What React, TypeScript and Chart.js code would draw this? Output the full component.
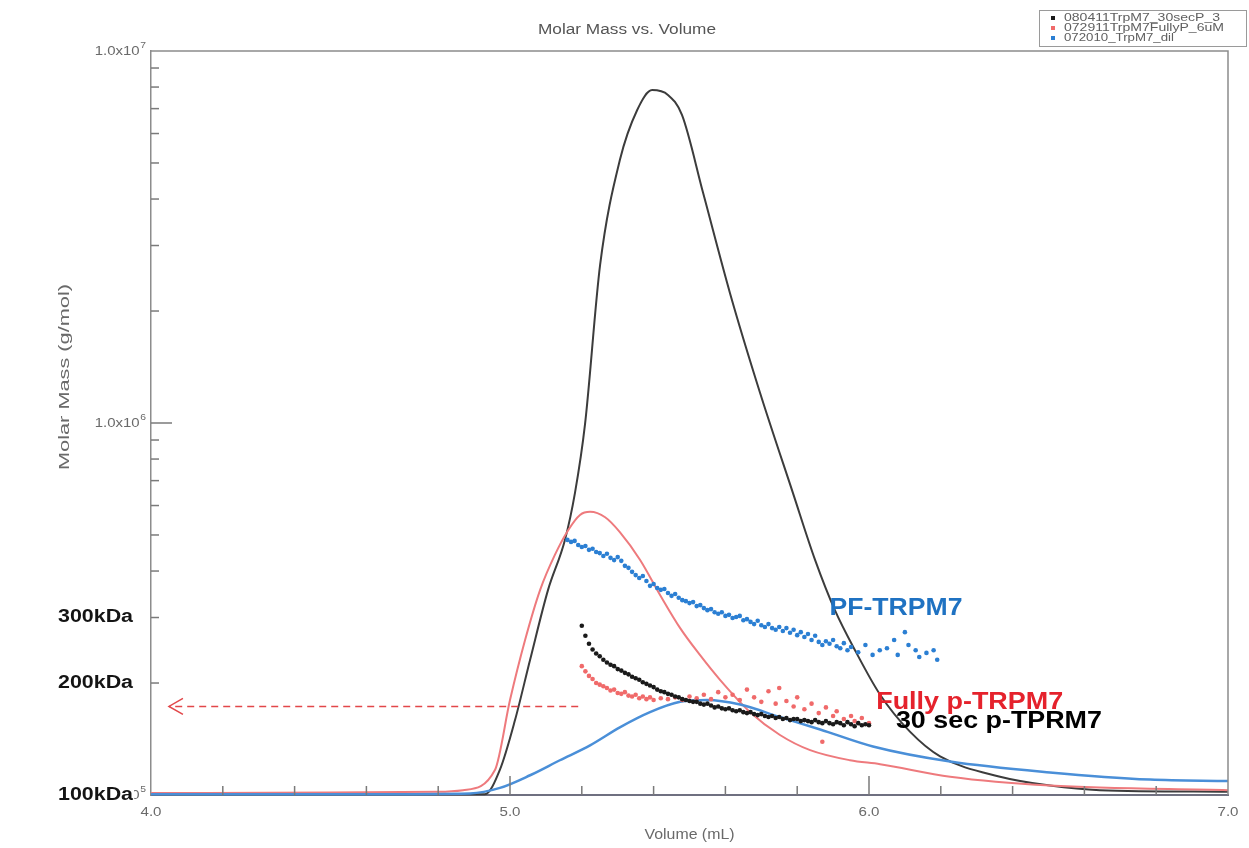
import React, { useEffect, useRef } from "react";
import { Chart, registerables } from "chart.js";
Chart.register(...registerables);

// ---------- DATA ----------
const seriesLabels = ["080411TrpM7_30secP_3", "072911TrpM7FullyP_6uM", "072010_TrpM7_dil"];

// concentration-like traces (plotted on the molar mass axis), volume in mL, value in g/mol
const blackTraceVol = [4.0, 4.5, 4.93, 4.972, 5.014, 5.056, 5.106, 5.153, 5.181, 5.209, 5.251, 5.306, 5.354, 5.396, 5.44, 5.479, 5.538, 5.613, 5.696, 5.788, 5.85, 5.905, 5.961, 6.031, 6.114, 6.198, 6.365, 6.504, 6.643, 7.0];
const blackTraceMass = [1.005e5, 1.005e5, 1.005e5, 1.17e5, 1.59e5, 2.31e5, 3.56e5, 4.85e5, 6.49e5, 9.93e5, 2.66e6, 5.09e6, 6.93e6, 7.85e6, 7.62e6, 6.73e6, 4.15e6, 2.23e6, 1.21e6, 6.49e5, 4.28e5, 3.14e5, 2.45e5, 1.86e5, 1.48e5, 1.27e5, 1.12e5, 1.06e5, 1.03e5, 1.02e5];

const redTraceVol = [4.0, 4.5, 4.8, 4.869, 4.958, 5.0, 5.042, 5.084, 5.125, 5.162, 5.195, 5.223, 5.265, 5.306, 5.362, 5.418, 5.474, 5.529, 5.585, 5.669, 5.752, 5.836, 5.947, 6.031, 6.226, 6.504, 7.0];
const redTraceMass = [1.012e5, 1.015e5, 1.02e5, 1.03e5, 1.167e5, 1.8e5, 2.61e5, 3.56e5, 4.42e5, 5.15e5, 5.66e5, 5.77e5, 5.58e5, 5.09e5, 4.29e5, 3.45e5, 2.81e5, 2.38e5, 2.04e5, 1.67e5, 1.45e5, 1.32e5, 1.24e5, 1.21e5, 1.12e5, 1.06e5, 1.03e5];

const blueTraceVol = [4.0, 4.6, 4.889, 4.972, 5.056, 5.139, 5.223, 5.306, 5.39, 5.474, 5.549, 5.641, 5.752, 5.864, 6.011, 6.226, 6.504, 6.783, 7.0];
const blueTraceMass = [1.005e5, 1.005e5, 1.01e5, 1.045e5, 1.13e5, 1.24e5, 1.36e5, 1.52e5, 1.67e5, 1.78e5, 1.8e5, 1.75e5, 1.62e5, 1.5e5, 1.35e5, 1.23e5, 1.15e5, 1.1e5, 1.09e5];

// molar mass scatter (kDa)
const blueDotsVol = [5.16, 5.17, 5.18, 5.19, 5.2, 5.21, 5.22, 5.23, 5.24, 5.25, 5.26, 5.27, 5.28, 5.29, 5.3, 5.31, 5.32, 5.33, 5.34, 5.35, 5.36, 5.37, 5.38, 5.39, 5.4, 5.41, 5.42, 5.43, 5.44, 5.45, 5.46, 5.47, 5.48, 5.49, 5.5, 5.51, 5.52, 5.53, 5.54, 5.55, 5.56, 5.57, 5.58, 5.59, 5.6, 5.61, 5.62, 5.63, 5.64, 5.65, 5.66, 5.67, 5.68, 5.69, 5.7, 5.71, 5.72, 5.73, 5.74, 5.75, 5.76, 5.77, 5.78, 5.79, 5.8, 5.81, 5.82, 5.83, 5.84, 5.85, 5.86, 5.87, 5.88, 5.89, 5.9, 5.91, 5.92, 5.93, 5.94, 5.95, 5.97, 5.99, 6.01, 6.03, 6.05, 6.07, 6.08, 6.1, 6.11, 6.13, 6.14, 6.16, 6.18, 6.19];
const blueDotsKDa = [485, 479, 482, 470, 464, 467, 456, 459, 450, 447, 439, 445, 434, 428, 436, 426, 413, 408, 398, 390, 383, 388, 376, 365, 369, 360, 356, 358, 349, 343, 347, 339, 334, 332, 328, 330, 322, 324, 318, 314, 316, 310, 307, 310, 303, 305, 299, 301, 303, 295, 297, 292, 288, 294, 286, 283, 288, 281, 278, 283, 276, 281, 273, 278, 269, 274, 266, 271, 261, 268, 258, 253, 259, 255, 261, 251, 248, 256, 245, 250, 242, 253, 238, 245, 248, 261, 238, 274, 253, 245, 235, 241, 245, 231];

const blackDotsVol = [5.2, 5.21, 5.22, 5.23, 5.24, 5.25, 5.26, 5.27, 5.28, 5.29, 5.3, 5.31, 5.32, 5.33, 5.34, 5.35, 5.36, 5.37, 5.38, 5.39, 5.4, 5.41, 5.42, 5.43, 5.44, 5.45, 5.46, 5.47, 5.48, 5.49, 5.5, 5.51, 5.52, 5.53, 5.54, 5.55, 5.56, 5.57, 5.58, 5.59, 5.6, 5.61, 5.62, 5.63, 5.64, 5.65, 5.66, 5.67, 5.68, 5.69, 5.7, 5.71, 5.72, 5.73, 5.74, 5.75, 5.76, 5.77, 5.78, 5.79, 5.8, 5.81, 5.82, 5.83, 5.84, 5.85, 5.86, 5.87, 5.88, 5.89, 5.9, 5.91, 5.92, 5.93, 5.94, 5.95, 5.96, 5.97, 5.98, 5.99, 6.0];
const blackDotsKDa = [285, 268, 255, 246, 240, 236, 231, 227, 224, 222, 218, 216, 213, 211, 208, 206, 204, 201, 199, 197, 195, 192, 190, 189, 187, 186, 184, 183, 181, 180, 179, 178, 178, 176, 175, 176, 174, 172, 173, 171, 170, 171, 169, 168, 169, 167, 166, 167, 165, 164, 165, 163, 162, 163, 161, 162, 160, 161, 159, 160, 160, 158, 159, 158, 157, 159, 157, 156, 158, 156, 155, 157, 156, 154, 157, 155, 153, 156, 154, 155, 154];

const redDotsVol = [5.2, 5.21, 5.22, 5.23, 5.24, 5.25, 5.26, 5.27, 5.28, 5.29, 5.3, 5.31, 5.32, 5.33, 5.34, 5.35, 5.36, 5.37, 5.38, 5.39, 5.4, 5.42, 5.44, 5.46, 5.48, 5.5, 5.52, 5.54, 5.56, 5.58, 5.6, 5.62, 5.64, 5.66, 5.68, 5.7, 5.72, 5.74, 5.75, 5.77, 5.79, 5.8, 5.82, 5.84, 5.86, 5.87, 5.88, 5.9, 5.91, 5.93, 5.95, 5.96, 5.98, 6.0];
const redDotsKDa = [222, 215, 209, 205, 200, 198, 196, 194, 191, 192, 188, 187, 189, 185, 184, 186, 182, 184, 181, 183, 180, 182, 181, 183, 180, 184, 182, 186, 181, 189, 183, 186, 180, 192, 183, 178, 190, 176, 194, 179, 173, 183, 170, 176, 166, 139, 172, 163, 168, 160, 163, 158, 161, 156];

// axes
const xLabelValues = [4, 5, 6, 7];
const xMajorTicks = [5, 6];
const xMinorTicks = [4.2, 4.4, 4.6, 4.8, 5.2, 5.4, 5.6, 5.8, 6.2, 6.4, 6.6, 6.8];
const yLabelExponents = [5, 6, 7];
const yMajorTicks = [1e6];
const yMinorTicks = [2e5, 3e5, 4e5, 5e5, 6e5, 7e5, 8e5, 9e5, 2e6, 3e6, 4e6, 5e6, 6e6, 7e6, 8e6, 9e6];

// overlay annotations
const kdaLabels = ["300kDa", "200kDa", "100kDa"];
const kdaValues = [3e5, 2e5, 1e5];
const noteTexts = ["PF-TRPM7", "Fully p-TRPM7", "30 sec p-TPRM7"];
const noteVol = [5.89, 6.02, 6.075];
const noteMass = [3.18e5, 1.77e5, 1.575e5];
const arrowFromVol = 5.19;
const arrowToVol = 4.05;
const arrowMass = 1.73e5;

const FONT = '"Liberation Sans", Arial, Helvetica, sans-serif';

const toPts = (xs: number[], ys: number[], k = 1) => xs.map((x, i) => ({ x, y: ys[i] * k }));

function fitText(ctx: CanvasRenderingContext2D, text: string, x: number, y: number, width: number, font: string, color: string, align: CanvasTextAlign = "left", rotate = 0) {
  ctx.save();
  ctx.font = font;
  ctx.fillStyle = color;
  ctx.textBaseline = "middle";
  ctx.textAlign = align;
  const w = ctx.measureText(text).width;
  ctx.translate(x, y);
  if (rotate) ctx.rotate(rotate);
  ctx.scale(width / w, 1);
  ctx.fillText(text, 0, 0);
  ctx.restore();
}

const decorPlugin = {
  id: "decor",
  afterDraw(chart: any) {
    const ctx: CanvasRenderingContext2D = chart.ctx;
    const xs = chart.scales.x;
    const ys = chart.scales.y;
    const a = chart.chartArea;
    ctx.save();
    // frame
    ctx.strokeStyle = "#8c8c8c";
    ctx.lineWidth = 1.5;
    ctx.beginPath();
    ctx.moveTo(a.left, a.top);
    ctx.lineTo(a.right, a.top);
    ctx.lineTo(a.right, a.bottom);
    ctx.stroke();
    // tick marks
    ctx.strokeStyle = "#7a7a7a";
    ctx.lineWidth = 1.5;
    const tick = (x1: number, y1: number, x2: number, y2: number) => {
      ctx.beginPath();
      ctx.moveTo(x1, y1);
      ctx.lineTo(x2, y2);
      ctx.stroke();
    };
    xMinorTicks.forEach((v) => { const px = xs.getPixelForValue(v); tick(px, a.bottom, px, a.bottom - 9); });
    xMajorTicks.forEach((v) => { const px = xs.getPixelForValue(v); tick(px, a.bottom, px, a.bottom - 19); });
    yMinorTicks.forEach((v) => { const py = ys.getPixelForValue(v); tick(a.left, py, a.left + 8, py); });
    yMajorTicks.forEach((v) => { const py = ys.getPixelForValue(v); tick(a.left, py, a.left + 21, py); });
    // x tick labels
    xLabelValues.forEach((v) => {
      fitText(ctx, v.toFixed(1), xs.getPixelForValue(v), a.bottom + 17, 21, `13px ${FONT}`, "#6a6a6a", "center");
    });
    // y tick labels 1.0x10^n
    yLabelExponents.forEach((e) => {
      const py = ys.getPixelForValue(Math.pow(10, e));
      ctx.save();
      ctx.translate(a.left - 5, py);
      ctx.scale(1.15, 1);
      ctx.fillStyle = "#6a6a6a";
      ctx.textAlign = "right";
      ctx.textBaseline = "middle";
      ctx.font = `9px ${FONT}`;
      const sw = ctx.measureText(String(e)).width;
      ctx.fillText(String(e), 0, -5);
      ctx.font = `13px ${FONT}`;
      ctx.fillText("1.0x10", -sw - 0.5, 0);
      ctx.restore();
    });
    // axis titles and chart title
    fitText(ctx, "Volume (mL)", (a.left + a.right) / 2, 835, 90, `14px ${FONT}`, "#6a6a6a", "center");
    fitText(ctx, "Molar Mass (g/mol)", 65, 377, 186, `14px ${FONT}`, "#6a6a6a", "center", -Math.PI / 2);
    fitText(ctx, "Molar Mass vs. Volume", 627, 30, 178, `14px ${FONT}`, "#555555", "center");
    // kDa overlay labels
    kdaLabels.forEach((t, i) => {
      const py = ys.getPixelForValue(kdaValues[i]);
      if (i === kdaLabels.length - 1) {
        ctx.fillStyle = "#ffffff";
        ctx.fillRect(56, py - 10, 78, 20);
      }
      fitText(ctx, t, 58, py, 75, `bold 18px ${FONT}`, "#141414", "left");
    });
    // dashed arrow
    const ay = ys.getPixelForValue(arrowMass);
    const ax1 = xs.getPixelForValue(arrowFromVol);
    const ax2 = xs.getPixelForValue(arrowToVol);
    ctx.strokeStyle = "#e2474a";
    ctx.lineWidth = 1.5;
    ctx.setLineDash([7, 5]);
    tick(ax1, ay, ax2, ay);
    ctx.setLineDash([]);
    ctx.beginPath();
    ctx.moveTo(ax2 + 14, ay - 8);
    ctx.lineTo(ax2, ay);
    ctx.lineTo(ax2 + 14, ay + 8);
    ctx.stroke();
    // notes
    const noteColors = ["#1f72c2", "#e5222c", "#000000"];
    const noteWidths = [133, 187, 206];
    noteTexts.forEach((t, i) => {
      fitText(ctx, t, xs.getPixelForValue(noteVol[i]), ys.getPixelForValue(noteMass[i]), noteWidths[i], `bold 24px ${FONT}`, noteColors[i], "left");
    });
    // legend box
    const lx = 1039, ly = 10, lw = 207, lh = 36;
    ctx.fillStyle = "#ffffff";
    ctx.fillRect(lx, ly, lw, lh);
    ctx.strokeStyle = "#9a9a9a";
    ctx.lineWidth = 1;
    ctx.strokeRect(lx + 0.5, ly + 0.5, lw, lh);
    const legendDs = chart.data.datasets.filter((d: any) => d.inLegend);
    legendDs.forEach((d: any, i: number) => {
      const yy = ly + 8 + i * 10;
      ctx.fillStyle = d.backgroundColor;
      ctx.fillRect(lx + 12, yy - 2, 4, 4);
      fitText(ctx, d.label, lx + 25, yy, [156, 160, 110][i], `11px ${FONT}`, "#606060", "left");
    });
    ctx.restore();
  },
};

export default function App() {
  const ref = useRef<HTMLCanvasElement | null>(null);
  useEffect(() => {
    if (!ref.current) return;
    const lineBase = { showLine: true, pointRadius: 0, borderWidth: 2, cubicInterpolationMode: "monotone", clip: 6, fill: false };
    const dotBase = { showLine: false, pointRadius: 2.3, pointHoverRadius: 2.3, borderWidth: 0, inLegend: true };
    const chart = new Chart(ref.current, {
      type: "scatter",
      data: {
        datasets: [
          { ...dotBase, label: seriesLabels[0], data: toPts(blackDotsVol, blackDotsKDa, 1000), backgroundColor: "#1a1a1a", pointBackgroundColor: "#1a1a1a", order: 1 },
          { ...dotBase, label: seriesLabels[1], data: toPts(redDotsVol, redDotsKDa, 1000), backgroundColor: "#f06a6a", pointBackgroundColor: "#f06a6a", order: 2 },
          { ...dotBase, label: seriesLabels[2], data: toPts(blueDotsVol, blueDotsKDa, 1000), backgroundColor: "#2b7fd3", pointBackgroundColor: "#2b7fd3", order: 3 },
          { ...lineBase, label: "trace_30secP", data: toPts(blackTraceVol, blackTraceMass), borderColor: "#3c3c3c", order: 6 },
          { ...lineBase, label: "trace_FullyP", data: toPts(redTraceVol, redTraceMass), borderColor: "#ee7a7d", order: 5 },
          { ...lineBase, label: "trace_dil", data: toPts(blueTraceVol, blueTraceMass), borderColor: "#4a8fd8", borderWidth: 2.5, order: 4 },
        ] as any,
      },
      options: {
        animation: false,
        responsive: false,
        events: [],
        layout: { padding: { top: 51, right: 21, left: 0, bottom: 0 } },
        plugins: { legend: { display: false }, tooltip: { enabled: false }, title: { display: false } },
        scales: {
          x: {
            type: "linear", min: 4, max: 7,
            grid: { display: false },
            border: { display: true, color: "#6f7080", width: 2 },
            ticks: { display: false },
            afterFit: (s: any) => { s.height = 53; },
          },
          y: {
            type: "logarithmic", min: 1e5, max: 1e7,
            grid: { display: false },
            border: { display: true, color: "#8c8c8c", width: 1.5 },
            ticks: { display: false },
            afterFit: (s: any) => { s.width = 151; },
          },
        },
      } as any,
      plugins: [decorPlugin],
    });
    return () => chart.destroy();
  }, []);
  return (
    <div style={{ position: "fixed", left: 0, top: 0, width: 1249, height: 848, background: "#ffffff" }}>
      <canvas ref={ref} width={1249} height={848} style={{ display: "block", width: 1249, height: 848 }} />
    </div>
  );
}
